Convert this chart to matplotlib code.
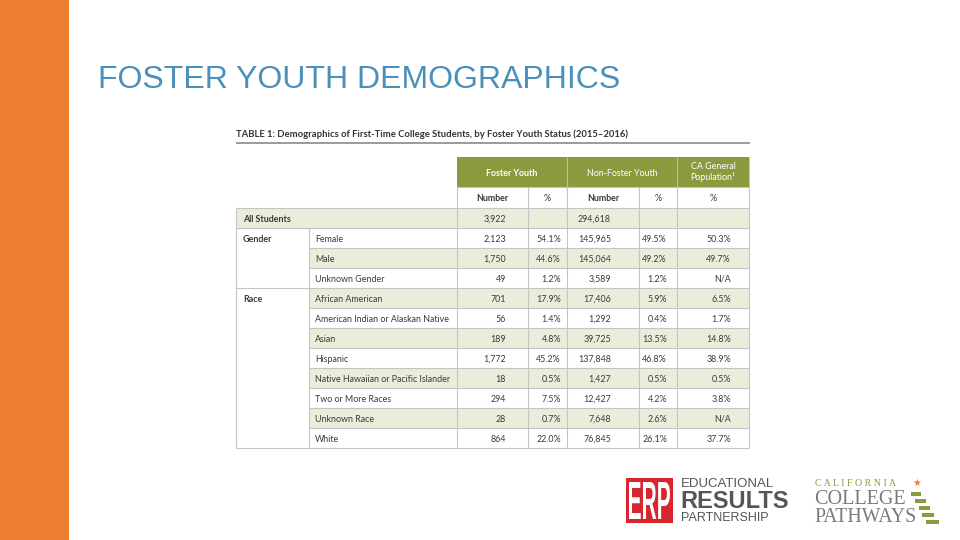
import matplotlib
matplotlib.use("Agg")
import matplotlib.pyplot as plt
from matplotlib.patches import Rectangle, PathPatch
from matplotlib.textpath import TextPath
from matplotlib.font_manager import FontProperties
from matplotlib.transforms import Affine2D

#Table data
row_groups = ["All Students", "Gender", "Gender", "Gender",
              "Race", "Race", "Race", "Race", "Race", "Race", "Race", "Race"]
row_labels = ["", "Female", "Male", "Unknown Gender",
              "African American", "American Indian or Alaskan Native", "Asian",
              "Hispanic", "Native Hawaiian or Pacific Islander",
              "Two or More Races", "Unknown Race", "White"]
foster_n = [3922, 2123, 1750, 49, 701, 56, 189, 1772, 18, 294, 28, 864]
foster_pct = [None, 54.1, 44.6, 1.2, 17.9, 1.4, 4.8, 45.2, 0.5, 7.5, 0.7, 22.0]
nonfoster_n = [294618, 145965, 145064, 3589, 17406, 1292, 39725, 137848,
               1427, 12427, 7648, 76845]
nonfoster_pct = [None, 49.5, 49.2, 1.2, 5.9, 0.4, 13.5, 46.8, 0.5, 4.2, 2.6, 26.1]
ca_pct = [None, 50.3, 49.7, "N/A", 6.5, 1.7, 14.8, 38.9, 0.5, 3.8, "N/A", 37.7]

#Colors
orange = "#ed7d31"
title_blue = "#4a90bb"
head_green = "#8c9a3f"
light_green = "#e9eedb"
grid = "#c4c4c4"
txt = "#3a3a3a"

tbl_font = ["Lato", "DejaVu Sans"]
fs = 6.4

#Layout (pixels)
col_x = [236, 309, 457, 528, 567, 639, 677, 749]
head_top, head_bot, sub_bot = 157, 187, 208
row_h = 20


def fmt_pct(v):
    if v is None:
        return ""
    if isinstance(v, str):
        return v
    return f"{v:.1f}%"


def cell(x, y, s, ha="right", bold=False, color=txt):
    ax.text(x, y, s, color=color, fontsize=fs, family=tbl_font,
            fontweight="bold" if bold else "normal", ha=ha, va="center_baseline")


fig = plt.figure(figsize=(9.6, 5.4), dpi=100)
ax = fig.add_axes([0, 0, 1, 1])
ax.set_xlim(0, 960)
ax.set_ylim(540, 0)
ax.axis("off")

#Slide decoration
ax.add_patch(Rectangle((0, 0), 69, 540, color=orange, lw=0))
ax.text(98, 80, "FOSTER YOUTH DEMOGRAPHICS", fontsize=23, color=title_blue,
        family="Liberation Sans", va="center", ha="left")

#Table title
ax.text(236, 134, "TABLE 1: Demographics of First-Time College Students, by Foster Youth Status (2015\u20132016)",
        fontsize=6.8, fontweight="bold", color="#333333", family=tbl_font,
        va="center", ha="left")
ax.hlines(143, 236, 750, color="#8a8a8a", lw=1.2)

#Header
ax.add_patch(Rectangle((col_x[2], head_top), col_x[7] - col_x[2], head_bot - head_top,
                       color=head_green, lw=0))
ax.vlines([col_x[4], col_x[6]], head_top, head_bot, color="#b8c28a", lw=0.8)
hy = (head_top + head_bot) / 2
cell((col_x[2] + col_x[4]) / 2, hy, "Foster Youth", ha="center", bold=True, color="white")
cell((col_x[4] + col_x[6]) / 2, hy, "Non-Foster Youth", ha="center", color="white")
ax.text((col_x[6] + col_x[7]) / 2, hy, "CA General\nPopulation\u00b9",
        color="white", fontsize=fs, family=tbl_font, ha="center", va="center",
        linespacing=1.1)

sub_labels = ["Number", "%", "Number", "%", "%"]
for k, lab in enumerate(sub_labels):
    cx = (col_x[2 + k] + col_x[3 + k]) / 2
    cell(cx, (head_bot + sub_bot) / 2, lab, ha="center", bold=(lab == "Number"))

#Row fills
n_rows = len(row_labels)
for i in range(n_rows):
    y0 = sub_bot + i * row_h
    if i % 2 == 0:
        x0 = col_x[0] if i == 0 else col_x[1]
        ax.add_patch(Rectangle((x0, y0), col_x[7] - x0, row_h, color=light_green, lw=0))

#Grid lines
bottom = sub_bot + n_rows * row_h
ax.hlines([head_bot], col_x[2], col_x[7], color=grid, lw=0.8)
for i in range(n_rows + 1):
    y = sub_bot + i * row_h
    full = i == 0 or i == n_rows or row_groups[i] != row_groups[i - 1]
    ax.hlines(y, col_x[0] if full else col_x[1], col_x[7], color=grid, lw=0.8)
ax.vlines(col_x[0], sub_bot, bottom, color=grid, lw=0.8)
ax.vlines(col_x[1], sub_bot + row_h, bottom, color=grid, lw=0.8)
ax.vlines(col_x[2:7], head_bot, bottom, color=grid, lw=0.8)
ax.vlines(col_x[7], head_top, bottom, color=grid, lw=0.8)

#Cell text
for i in range(n_rows):
    yc = sub_bot + i * row_h + row_h / 2
    if i == 0 or row_groups[i] != row_groups[i - 1]:
        cell(col_x[0] + 7, yc, row_groups[i], ha="left", bold=True)
    if row_labels[i]:
        cell(col_x[1] + 6, yc, row_labels[i], ha="left")
    cell(506, yc, f"{foster_n[i]:,}")
    cell(561, yc, fmt_pct(foster_pct[i]))
    cell(611, yc, f"{nonfoster_n[i]:,}")
    cell(667, yc, fmt_pct(nonfoster_pct[i]))
    cell(731, yc, fmt_pct(ca_pct[i]))

#ERP logo
ax.add_patch(Rectangle((626, 478), 47, 45, color="#d8262e", lw=0))
tp = TextPath((0, 0), "ERP", size=10,
              prop=FontProperties(family="Liberation Sans", weight="bold"))
bb = tp.get_extents()
sx = 41 / bb.width
sy = 37 / bb.height
tr = Affine2D().translate(-bb.x0, -bb.y0).scale(sx, -sy).translate(629, 519)
ax.add_patch(PathPatch(tr.transform_path(tp), color="white", lw=0))
ax.text(681, 484, "EDUCATIONAL", color="#555555", fontsize=9.5,
        family="Liberation Sans", ha="left", va="center")
ax.text(680, 501, "RESULTS", color="#555555", fontsize=17, fontweight="bold",
        family="Liberation Sans", ha="left", va="center")
ax.text(681, 518, "PARTNERSHIP", color="#555555", fontsize=9,
        family="Liberation Sans", ha="left", va="center")

#California College Pathways logo
ax.text(815, 484, "C A L I F O R N I A", color="#8c9a3f", fontsize=7.2,
        family="Liberation Serif", ha="left", va="center")
ax.text(912, 483, "\u2605", color=orange, fontsize=7, family="DejaVu Sans",
        ha="left", va="center")
ax.text(814, 499, "COLLEGE", color="#7a7a7a", fontsize=14.5,
        family="Liberation Serif", ha="left", va="center")
ax.text(814, 518, "PATHWAYS", color="#7a7a7a", fontsize=14.3,
        family="Liberation Serif", ha="left", va="center")
for (x0, x1, y) in [(911, 921, 494), (915, 926, 501), (919, 930, 508),
                    (922, 934, 515), (926, 939, 522)]:
    ax.add_patch(Rectangle((x0, y - 1.8), x1 - x0, 3.6, color="#8c9a3f", lw=0))

fig.savefig("out.png", dpi=100)
